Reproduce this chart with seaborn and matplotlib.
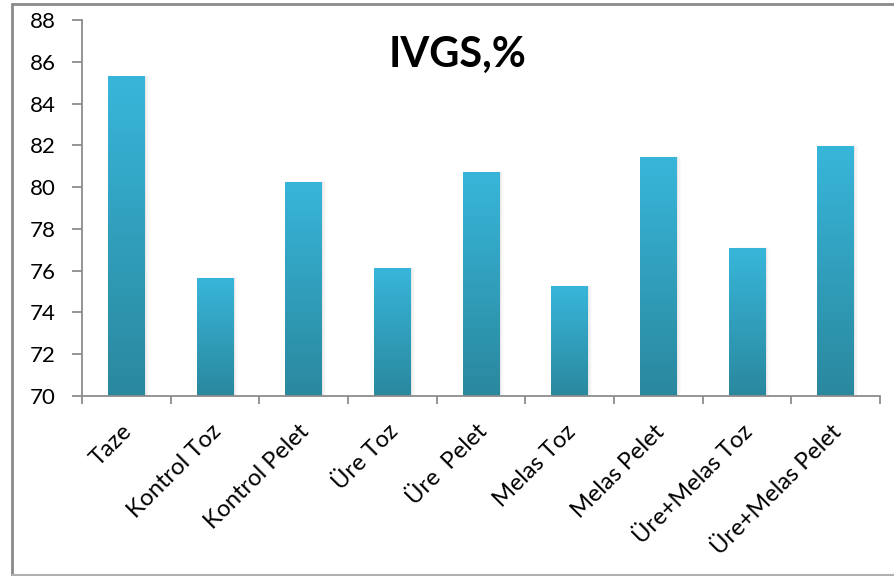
import numpy as np
import pandas as pd
import matplotlib
matplotlib.use("Agg")
import matplotlib.pyplot as plt
import matplotlib.transforms as mtransforms
import seaborn as sns
from matplotlib.colors import LinearSegmentedColormap
from matplotlib.lines import Line2D

categories = ["Taze", "Kontrol Toz", "Kontrol Pelet", "Üre Toz", "Üre  Pelet",
              "Melas Toz", "Melas Pelet", "Üre+Melas Toz", "Üre+Melas Pelet"]
values = [85.3, 75.65, 80.25, 76.12, 80.72, 75.26, 81.44, 77.08, 81.96]
yticks = [70, 72, 74, 76, 78, 80, 82, 84, 86, 88]
title = "IVGS,%"

sns.set_theme(style="white")
plt.rcParams['font.family'] = ['Lato', 'DejaVu Sans']

fig = plt.figure(figsize=(8.95, 5.76), dpi=100)
ax = fig.add_axes([82/895, 1-396/576, (880-82)/895, (396-20)/576])

df = pd.DataFrame({"cat": categories, "val": values})
sns.barplot(data=df, x="cat", y="val", ax=ax, color="#34acd0", width=0.41,
            saturation=1, edgecolor="none")

ax.set_ylim(70, 88)
ax.set_xlim(-0.5, len(categories) - 0.5)
ax.set_yticks(yticks)
ax.set_yticklabels([str(t) for t in yticks], fontsize=16, color="black")
ax.set_xlabel("")
ax.set_ylabel("")

# gradient fill per bar
cmap = LinearSegmentedColormap.from_list("g", ["#2a889e", "#38b6da"])
grad = np.linspace(0, 1, 256).reshape(-1, 1)
for p in ax.patches:
    x0, y0 = p.get_x(), 70
    w, h = p.get_width(), p.get_height()
    top = p.get_y() + h
    # soft shadow
    for k, a in enumerate([0.05, 0.03, 0.015]):
        sh = plt.Rectangle((x0 + 0.005*(k+1), y0), w + 0.012*(k+1), top - y0 - 0.05 + 0.03*(k+1),
                           facecolor="black", alpha=a, edgecolor="none", zorder=1.5)
        ax.add_patch(sh)
    im = ax.imshow(grad, cmap=cmap, aspect="auto", origin="lower",
                   extent=[x0, x0 + w, y0, top], zorder=3)
    im.set_clip_path(p)
    p.set_zorder(2.5)
ax.set_xlim(-0.5, len(categories) - 0.5)
ax.set_ylim(70, 88)

# spines and ticks
for s in ["top", "right"]:
    ax.spines[s].set_visible(False)
for s in ["left", "bottom"]:
    ax.spines[s].set_color("#8c8c8c")
    ax.spines[s].set_linewidth(1.3)
    ax.spines[s].set_zorder(4)
ax.tick_params(axis="y", which="major", direction="out", length=7, width=1.3,
               color="#8c8c8c", pad=12, left=True)
ax.set_xticks(range(len(categories)))
ax.set_xticklabels(categories, rotation=45, ha="right", rotation_mode="anchor",
                   fontsize=17, color="black")
ax.set_xticks(np.arange(-0.5, len(categories), 1), minor=True)
ax.tick_params(axis="x", which="major", length=0, pad=18)
ax.tick_params(axis="x", which="minor", direction="out", length=6, width=1.3,
               color="#8c8c8c", bottom=True)
offset = mtransforms.ScaledTranslation(-5/100, 0, fig.dpi_scale_trans)
for lbl in ax.get_xticklabels():
    lbl.set_transform(lbl.get_transform() + offset)

ax.text((457.5 - 82) / (880 - 82), (396 - 55) / (396 - 20), title, transform=ax.transAxes,
        ha="center", va="center", fontsize=30, fontweight="bold", color="black")

# outer frame (left, top, bottom)
fc = "#8a8a8a"
fig.add_artist(Line2D([12/895, 12/895], [1-575/576, 1-4/576], color=fc, lw=2, transform=fig.transFigure))
fig.add_artist(Line2D([12/895, 1], [1-4/576, 1-4/576], color=fc, lw=2, transform=fig.transFigure))
fig.add_artist(Line2D([12/895, 1], [1-575/576, 1-575/576], color="#b0b0b0", lw=1.5, transform=fig.transFigure))

fig.savefig("out.png", dpi=100)
